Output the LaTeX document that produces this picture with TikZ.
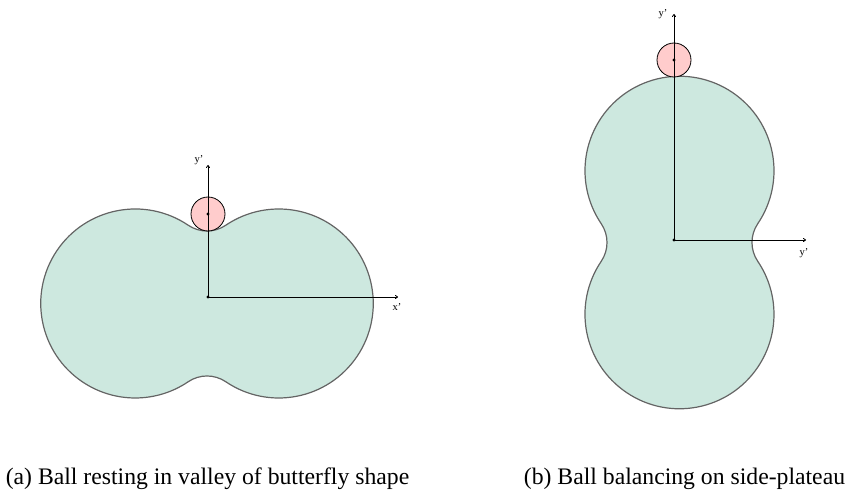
\documentclass[tikz,border=0pt]{standalone}
\usepackage{fontspec}
\setmainfont{Liberation Serif}
\usepackage{tikz}
\usetikzlibrary{arrows.meta}
\definecolor{bodymint}{RGB}{205,232,223}
\definecolor{bodyedge}{RGB}{100,100,100}
\definecolor{ballpink}{RGB}{255,204,204}

% the two-lobed body, centred on the origin, lobes on the x axis
\newcommand{\butterflypath}{%
  (18.78,78.26) arc[start angle=-55.9, end angle=-124.1, radius=33.5]
  arc[start angle=55.9, end angle=304.1, radius=94.5]
  arc[start angle=124.1, end angle=55.9, radius=33.5]
  arc[start angle=-124.1, end angle=124.1, radius=94.5] -- cycle}

\begin{document}
\begin{tikzpicture}[x=1pt, y=1pt,
  body/.style={fill=bodymint, draw=bodyedge, line width=1.2pt},
  ball/.style={fill=ballpink, draw=black, line width=0.8pt},
  axis/.style={draw=black, line width=0.8pt, -{To[length=3pt, width=4pt]}},
  dot/.style={circle, fill=black, inner sep=0pt, minimum size=3.4pt},
  axlbl/.style={font=\fontsize{10.5}{12}\selectfont, inner sep=0pt},
  caption/.style={font=\fontsize{23.7}{28}\selectfont, inner sep=0pt, anchor=base}]

  \useasboundingbox (0,0) rectangle (849,491);

  % -- the body, once lying flat and once standing up
  \foreach \cx/\cy/\rot in {207/187.5/0, 679.5/248.5/90}{
    \begin{scope}[shift={(\cx,\cy)}, rotate=\rot]
      \path[body] \butterflypath;
    \end{scope}}

  % -- (a) ball in the valley
  \draw[ball] (208,277) circle[radius=17];
  \node[dot] (ballA) at (208,277) {};
  \node[dot] (originA) at (208,194) {};
  \coordinate (tipAy) at (208,326);
  \coordinate (tipAx) at (398,194);
  \draw[axis] (originA.center) -- (tipAy);
  \draw[axis] (originA.center) -- (tipAx);
  \node[axlbl] (lblAy) at (199,331) {y'};
  \node[axlbl] (lblAx) at (397,184) {x'};

  % -- (b) ball on top of the upright body
  \draw[ball] (674,431) circle[radius=17];
  \node[dot] (ballB) at (674,431) {};
  \node[dot] (originB) at (674,251) {};
  \coordinate (tipBy) at (674,477);
  \coordinate (tipBx) at (806,251);
  \draw[axis] (originB.center) -- (tipBy);
  \draw[axis] (originB.center) -- (tipBx);
  \node[axlbl] (lblBy) at (663,477) {y'};
  \node[axlbl] (lblBx) at (804,238) {y'};

  % captions, centred under their panels
  \node[caption] (capA) at (207.5,6.5) {(a) Ball resting in valley of butterfly shape};
  \node[caption] (capB) at (684.5,6.5) {(b) Ball balancing on side-plateau};

\end{tikzpicture}
\end{document}
